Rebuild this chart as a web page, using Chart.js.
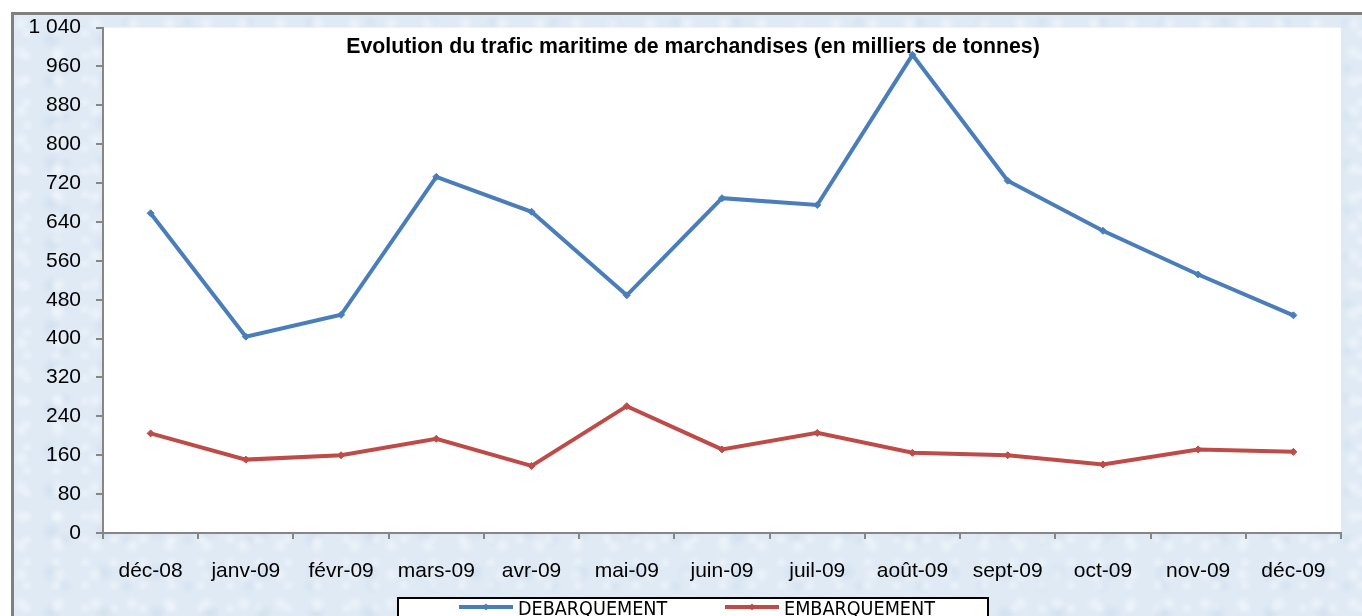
<!DOCTYPE html>
<html>
<head>
<meta charset="utf-8">
<script src="https://cdn.jsdelivr.net/npm/chart.js@4.4.1/dist/chart.umd.min.js"></script>
<style>
  html, body { margin:0; padding:0; width:1362px; height:616px; overflow:hidden; background:#ffffff; }
  .frame {
    position:absolute; left:11px; top:12px; width:1380px; height:640px;
    border-left:3px solid #808080; border-top:3px solid #808080;
    background-color:#dfeaf5;
    background-image:
      radial-gradient(circle at 20% 30%, rgba(255,255,255,0.4) 0, rgba(255,255,255,0) 9px),
      radial-gradient(circle at 70% 60%, rgba(190,208,228,0.35) 0, rgba(190,208,228,0) 11px),
      radial-gradient(circle at 45% 80%, rgba(255,255,255,0.35) 0, rgba(255,255,255,0) 7px),
      radial-gradient(circle at 85% 15%, rgba(200,215,232,0.35) 0, rgba(200,215,232,0) 8px);
    background-size: 37px 29px, 53px 41px, 29px 23px, 61px 47px;
  }
  canvas { position:absolute; left:0; top:0; }
</style>
</head>
<body>
<div class="frame"></div>
<canvas id="c" width="1362" height="616"></canvas>
<script>
const categories = ['déc-08','janv-09','févr-09','mars-09','avr-09','mai-09','juin-09','juil-09','août-09','sept-09','oct-09','nov-09','déc-09'];
const debarquement = [658, 404, 449, 733, 661, 489, 689, 675, 984, 725, 622, 532, 448];
const embarquement = [205, 151, 160, 194, 138, 261, 172, 206, 165, 160, 141, 172, 167];
const seriesNames = ['DEBARQUEMENT', 'EMBARQUEMENT'];
const chartTitle = 'Evolution du trafic maritime de marchandises (en milliers de tonnes)';
const yMin = 0, yMax = 1040, yStep = 80;

const FONT = "'Liberation Sans', Arial, sans-serif";
const AXIS = '#868686';

const plotBg = {
  id: 'plotBg',
  beforeDraw(chart) {
    const {ctx, chartArea: a} = chart;
    ctx.save();
    ctx.fillStyle = '#ffffff';
    ctx.fillRect(a.left, a.top, a.right - a.left, a.bottom - a.top);
    ctx.restore();
  }
};

const titlePlugin = {
  id: 'titleInArea',
  afterDraw(chart) {
    const ctx = chart.ctx;
    ctx.save();
    ctx.font = "bold 21.3px " + FONT;
    ctx.fillStyle = '#000';
    ctx.textAlign = 'center';
    ctx.textBaseline = 'middle';
    ctx.fillText(chartTitle, 693, 47);
    ctx.restore();
  }
};

const boxLegend = {
  id: 'boxLegend',
  afterDraw(chart) {
    const ctx = chart.ctx;
    ctx.save();
    ctx.fillStyle = '#ffffff';
    ctx.fillRect(398, 598, 590, 30);
    ctx.strokeStyle = '#000';
    ctx.lineWidth = 2;
    ctx.strokeRect(398, 598, 590, 30);
    const items = [{x0: 459, x1: 513, tx: 518}, {x0: 725, x1: 779, tx: 784}];
    chart.data.datasets.forEach((ds, i) => {
      const it = items[i];
      const y = 607;
      ctx.strokeStyle = ds.borderColor;
      ctx.lineWidth = 4;
      ctx.beginPath(); ctx.moveTo(it.x0, y); ctx.lineTo(it.x1, y); ctx.stroke();
      ctx.fillStyle = ds.borderColor;
      const cx = (it.x0 + it.x1) / 2;
      ctx.beginPath(); ctx.moveTo(cx, y - 3.5); ctx.lineTo(cx + 3.5, y); ctx.lineTo(cx, y + 3.5); ctx.lineTo(cx - 3.5, y); ctx.closePath(); ctx.fill();
      ctx.fillStyle = '#000';
      ctx.font = "19.6px 'Liberation Sans Narrow', 'DejaVu Sans Condensed', sans-serif";
      ctx.textAlign = 'left';
      ctx.textBaseline = 'alphabetic';
      ctx.fillText(ds.label, it.tx, 615);
    });
    ctx.restore();
  }
};

const fmt = v => String(v).replace(/\B(?=(\d{3})+(?!\d))/g, ' ');

new Chart(document.getElementById('c'), {
  type: 'line',
  data: {
    labels: categories,
    datasets: [
      { label: seriesNames[0], data: debarquement, borderColor: '#4a7ebb', backgroundColor: '#4a7ebb',
        borderWidth: 4, pointStyle: 'rectRot', pointRadius: 3.5, pointBorderWidth: 1, tension: 0 },
      { label: seriesNames[1], data: embarquement, borderColor: '#be4b48', backgroundColor: '#be4b48',
        borderWidth: 4, pointStyle: 'rectRot', pointRadius: 3.5, pointBorderWidth: 1, tension: 0 }
    ]
  },
  options: {
    responsive: false,
    animation: false,
    devicePixelRatio: 1,
    layout: { padding: { top: 25, right: 21, left: 0, bottom: 0 } },
    plugins: { legend: { display: false }, title: { display: false }, tooltip: { enabled: false } },
    scales: {
      x: {
        type: 'category',
        offset: true,
        grid: { offset: true, drawOnChartArea: false, drawTicks: true, tickLength: 6, color: AXIS, lineWidth: 2 },
        border: { display: true, color: AXIS, width: 2 },
        ticks: { font: { family: FONT, size: 21 }, color: '#000', padding: 20, maxRotation: 0, autoSkip: false },
        afterFit: s => { s.height = 83; }
      },
      y: {
        min: yMin, max: yMax,
        grid: { drawOnChartArea: false, drawTicks: true, tickLength: 7, color: AXIS, lineWidth: 2 },
        border: { display: true, color: AXIS, width: 2 },
        ticks: { stepSize: yStep, font: { family: FONT, size: 21 }, color: '#000', padding: 15, callback: v => fmt(v) },
        afterFit: s => { s.width = 103; }
      }
    }
  },
  plugins: [plotBg, titlePlugin, boxLegend]
});
</script>
</body>
</html>
